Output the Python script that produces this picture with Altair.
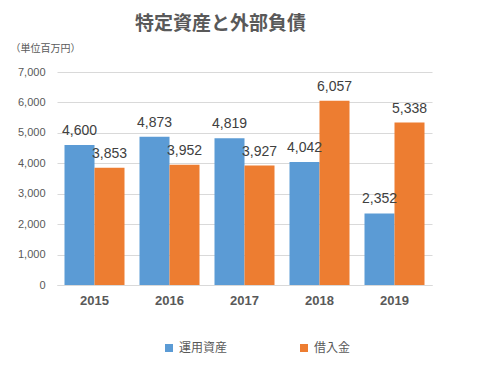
import altair as alt
import pandas as pd

years = ["2015", "2016", "2017", "2018", "2019"]
series = ["運用資産", "借入金"]
assets = [4600, 4873, 4819, 4042, 2352]
loans = [3853, 3952, 3927, 6057, 5338]
colors = ["#5B9BD5", "#ED7D31"]

rows = []
for y, a, l in zip(years, assets, loans):
    rows.append({"year": y, "series": series[0], "value": a})
    rows.append({"year": y, "series": series[1], "value": l})
df = pd.DataFrame(rows)

JP = "Noto Sans CJK JP"
LAT = "Liberation Sans"

x = alt.X("year:N", sort=years, title=None,
          scale=alt.Scale(paddingInner=0.2, paddingOuter=0.1),
          axis=alt.Axis(labelAngle=0, labelFont=LAT, labelFontSize=13, labelFontWeight="bold",
                        labelColor="#595959", labelPadding=9, ticks=False,
                        domainColor="#D9D9D9", domainWidth=1))
xo = alt.XOffset("series:N", sort=series)
y = alt.Y("value:Q", scale=alt.Scale(domain=[0, 7000], nice=False),
          title="（単位百万円）",
          axis=alt.Axis(values=list(range(0, 7001, 1000)), format=",d", labelFont=LAT,
                        labelFontSize=11, labelColor="#595959", labelPadding=12,
                        ticks=False, domain=False, gridColor="#D9D9D9", gridWidth=1,
                        titleAngle=0, titleAlign="left", titleBaseline="middle",
                        titleX=-47, titleY=-24, titleFont=JP, titleFontSize=10,
                        titleFontWeight="normal", titleColor="#595959"))
color = alt.Color("series:N", sort=series, scale=alt.Scale(domain=series, range=colors),
                  legend=alt.Legend(title=None, orient="none", direction="horizontal",
                                    legendX=106, legendY=270, symbolType="square",
                                    symbolSize=64, symbolStrokeWidth=0, labelFont=JP,
                                    labelFontSize=12, labelColor="#595959",
                                    columnPadding=70, labelOffset=4))

bars = alt.Chart(df).mark_bar(stroke=None).encode(x=x, xOffset=xo, y=y, color=color)
labels = alt.Chart(df).mark_text(dy=-14, font=LAT, fontSize=14, color="#404040").encode(
    x=x, xOffset=xo, y=y, text=alt.Text("value:Q", format=","))

chart = alt.layer(bars, labels).properties(
    width=375, height=213,
    title=alt.TitleParams("特定資産と外部負債", font=JP, fontSize=19, fontWeight="bold",
                          color="#595959", anchor="middle", dx=-24, frame="group", offset=9),
    autosize=alt.AutoSizeParams(type="none"),
    padding={"left": 49, "top": 64, "right": 40, "bottom": 90},
).configure_view(stroke=None)

chart.save("out.html", embed_options={"renderer": "svg", "actions": False})
